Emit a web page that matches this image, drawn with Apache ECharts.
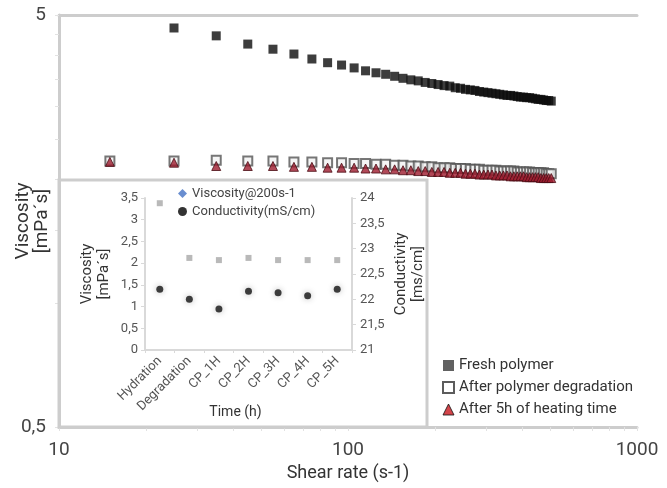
<!DOCTYPE html>
<html><head><meta charset="utf-8">
<script src="https://cdn.jsdelivr.net/npm/echarts@6/dist/echarts.min.js"></script>
<style>html,body{margin:0;padding:0;background:#fff}#c{width:667px;height:488px}</style>
</head><body><div id="c"></div>
<script>
// ---- data ----
const shearRates = [15,25,35,45,55,65,75,85,95,105,115,125,135,145,155,165,175,185,195,205,215,225,235,245,255,265,275,285,295,305,315,325,335,345,355,365,375,385,395,405,415,425,435,445,455,465,475,485,495,505];
const freshPolymer = [null,4.65,4.45,4.25,4.13,4.02,3.91,3.83,3.78,3.72,3.66,3.62,3.59,3.55,3.51,3.48,3.46,3.43,3.41,3.39,3.37,3.36,3.33,3.32,3.30,3.29,3.28,3.26,3.25,3.24,3.23,3.22,3.21,3.20,3.19,3.19,3.18,3.17,3.16,3.16,3.15,3.15,3.14,3.13,3.12,3.12,3.11,3.10,3.10,3.09];
const afterDegradation = [2.21,2.21,2.22,2.21,2.21,2.20,2.20,2.19,2.19,2.18,2.18,2.17,2.17,2.16,2.16,2.15,2.15,2.14,2.14,2.13,2.13,2.13,2.12,2.12,2.12,2.11,2.11,2.11,2.10,2.10,2.10,2.10,2.09,2.09,2.09,2.09,2.09,2.08,2.08,2.08,2.08,2.08,2.07,2.07,2.07,2.07,2.07,2.06,2.06,2.06];
const afterHeating = [2.20,2.19,2.15,2.15,2.15,2.14,2.14,2.13,2.13,2.13,2.12,2.12,2.11,2.11,2.10,2.10,2.09,2.09,2.08,2.08,2.08,2.07,2.07,2.07,2.06,2.06,2.06,2.05,2.05,2.05,2.05,2.04,2.04,2.04,2.04,2.03,2.03,2.03,2.03,2.03,2.02,2.02,2.02,2.02,2.02,2.01,2.01,2.01,2.01,2.01];
const seriesNames = ['Fresh polymer','After polymer degradation','After 5h of heating time'];

const insetCategories = ['Hydration','Degradation','CP_1H','CP_2H','CP_3H','CP_4H','CP_5H'];
const insetViscosity = [3.38,2.12,2.07,2.12,2.07,2.07,2.07];
const insetConductivity = [22.20,22.00,21.81,22.16,22.13,22.07,22.20];
const insetNames = ['Viscosity@200s-1','Conductivity(mS/cm)'];

const mainXLabels = [10,100,1000];
const mainXMinorTicks = [10,20,30,40,50,60,70,80,90,100,200,300,400,500,600,700,800,900,1000];
const mainYLabels = [0.5,5];
const mainYMinorTicks = [0.5,1,1.5,2,2.5,3,3.5,4,4.5,5];

// ---- chart ----
const FONT = 'Roboto, "Noto Sans", sans-serif';
const comma = v => String(v).replace('.', ',');
const plain = v => String(Math.round(v));
const pairs = arr => shearRates.map((x,i)=>[x, arr[i]]).filter(p=>p[1]!=null);
const mainLine = {show:true, lineStyle:{color:'#cdcdcd', width:3}};
const insetLine = {show:true, lineStyle:{color:'#d9d9d9', width:2}};

const chart = echarts.init(document.getElementById('c'), null, {renderer:'canvas'});
chart.setOption({
  animation:false,
  textStyle:{fontFamily:FONT},
  grid:[
    {left:59, right:30, top:15, bottom:61, containLabel:false, outerBoundsMode:'none'},
    {left:145, right:315, top:198, bottom:138, containLabel:false, outerBoundsMode:'none'}
  ],
  graphic:[{
    type:'rect', z:1, silent:true,
    shape:{x:59, y:180, width:368, height:247},
    style:{fill:null, stroke:'#cdcdcd', lineWidth:3}
  }],
  legend:[
    {
      data:[
        {name:seriesNames[0], icon:'rect', itemStyle:{color:'#3a3a3a', borderWidth:0}},
        {name:seriesNames[1], icon:'rect', itemStyle:{color:'#fff', borderColor:'#333', borderWidth:2}},
        {name:seriesNames[2], icon:'triangle', itemStyle:{color:'#c8161d', borderColor:'#111', borderWidth:1}}
      ],
      orient:'vertical', left:437, top:353, itemWidth:11, itemHeight:11, itemGap:7,
      textStyle:{fontSize:15, color:'#333', fontFamily:FONT}
    },
    {
      data:[
        {name:insetNames[0], icon:'diamond', itemStyle:{color:'#4472c4'}},
        {name:insetNames[1], icon:'circle', itemStyle:{color:'#000'}}
      ],
      orient:'vertical', left:173, top:182, itemWidth:9, itemHeight:9, itemGap:5,
      textStyle:{fontSize:13, color:'#444', fontFamily:FONT}
    }
  ],
  xAxis:[
    {
      type:'log', gridIndex:0, min:10, max:1000, position:'bottom',
      axisLine:mainLine,
      axisTick:{show:true, customValues:mainXMinorTicks, length:4, lineStyle:{color:'#e2e2e2'}},
      axisLabel:{customValues:mainXLabels, formatter:plain, fontSize:19, color:'#444', margin:14},
      splitLine:{show:false},
      name:'Shear rate (s-1)', nameLocation:'middle', nameGap:37, nameMoveOverlap:false,
      nameTextStyle:{fontSize:18, color:'#333'}
    },
    {
      type:'log', gridIndex:0, min:10, max:1000, position:'top',
      axisLine:mainLine, axisTick:{show:false}, axisLabel:{show:false}, splitLine:{show:false}
    },
    {
      type:'category', gridIndex:1, data:insetCategories, boundaryGap:true,
      axisLine:insetLine,
      axisTick:{show:true, length:3, lineStyle:{color:'#d9d9d9'}},
      axisLabel:{rotate:45, interval:0, fontSize:13, color:'#555', margin:9},
      name:'Time (h)', nameLocation:'middle', nameGap:55, nameMoveOverlap:false,
      nameTextStyle:{fontSize:14, color:'#333', padding:[0,26,0,0]}
    }
  ],
  yAxis:[
    {
      type:'log', gridIndex:0, min:0.5, max:5,
      axisLine:mainLine,
      axisTick:{show:true, customValues:mainYMinorTicks, length:4, lineStyle:{color:'#e2e2e2'}},
      axisLabel:{customValues:mainYLabels, formatter:comma, fontSize:19, color:'#444', margin:13},
      splitLine:{show:false},
      name:'Viscosity\n[mPa´s]', nameLocation:'middle', nameRotate:90, nameGap:7, nameMoveOverlap:false,
      nameTextStyle:{fontSize:19, lineHeight:19, color:'#333'}
    },
    {
      type:'value', gridIndex:1, min:0, max:3.5, interval:0.5, position:'left',
      axisLine:insetLine,
      axisTick:{show:true, length:4, lineStyle:{color:'#d9d9d9'}},
      axisLabel:{formatter:comma, fontSize:13, color:'#555', margin:7},
      splitLine:{show:false},
      name:'Viscosity\n[mPa´s]', nameLocation:'middle', nameRotate:90, nameGap:32, nameMoveOverlap:false,
      nameTextStyle:{fontSize:15, lineHeight:17, color:'#333'}
    },
    {
      type:'value', gridIndex:1, min:21, max:24, interval:0.5, position:'right',
      axisLine:insetLine,
      axisTick:{show:true, length:4, lineStyle:{color:'#d9d9d9'}},
      axisLabel:{formatter:comma, fontSize:13, color:'#555', margin:8},
      splitLine:{show:false},
      name:'Conductivity\n[ms/cm]', nameLocation:'middle', nameRotate:90, nameGap:41, nameMoveOverlap:false,
      nameTextStyle:{fontSize:15, lineHeight:17, color:'#333'}
    }
  ],
  series:[
    {
      name:seriesNames[1], type:'scatter', xAxisIndex:0, yAxisIndex:0,
      symbol:'rect', symbolSize:9, z:3,
      itemStyle:{color:'#f2f2f2', borderColor:'#555', borderWidth:2},
      data:pairs(afterDegradation)
    },
    {
      name:seriesNames[2], type:'scatter', xAxisIndex:0, yAxisIndex:0,
      symbol:'triangle', symbolSize:9, z:4,
      itemStyle:{color:'#9e1c2e', borderColor:'#4a0c14', borderWidth:1},
      data:pairs(afterHeating)
    },
    {
      name:seriesNames[0], type:'scatter', xAxisIndex:0, yAxisIndex:0,
      symbol:'rect', symbolSize:9, z:5,
      itemStyle:{color:'#0d0d0d'},
      data:pairs(freshPolymer)
    },
    {
      name:insetNames[0], type:'scatter', xAxisIndex:2, yAxisIndex:1,
      symbol:'rect', symbolSize:6,
      itemStyle:{color:'#a8a8a8'},
      data:insetViscosity
    },
    {
      name:insetNames[1], type:'scatter', xAxisIndex:2, yAxisIndex:2,
      symbol:'circle', symbolSize:7,
      itemStyle:{color:'#111', shadowBlur:6, shadowColor:'rgba(0,0,0,0.35)'},
      data:insetConductivity
    }
  ]
});
</script></body></html>
